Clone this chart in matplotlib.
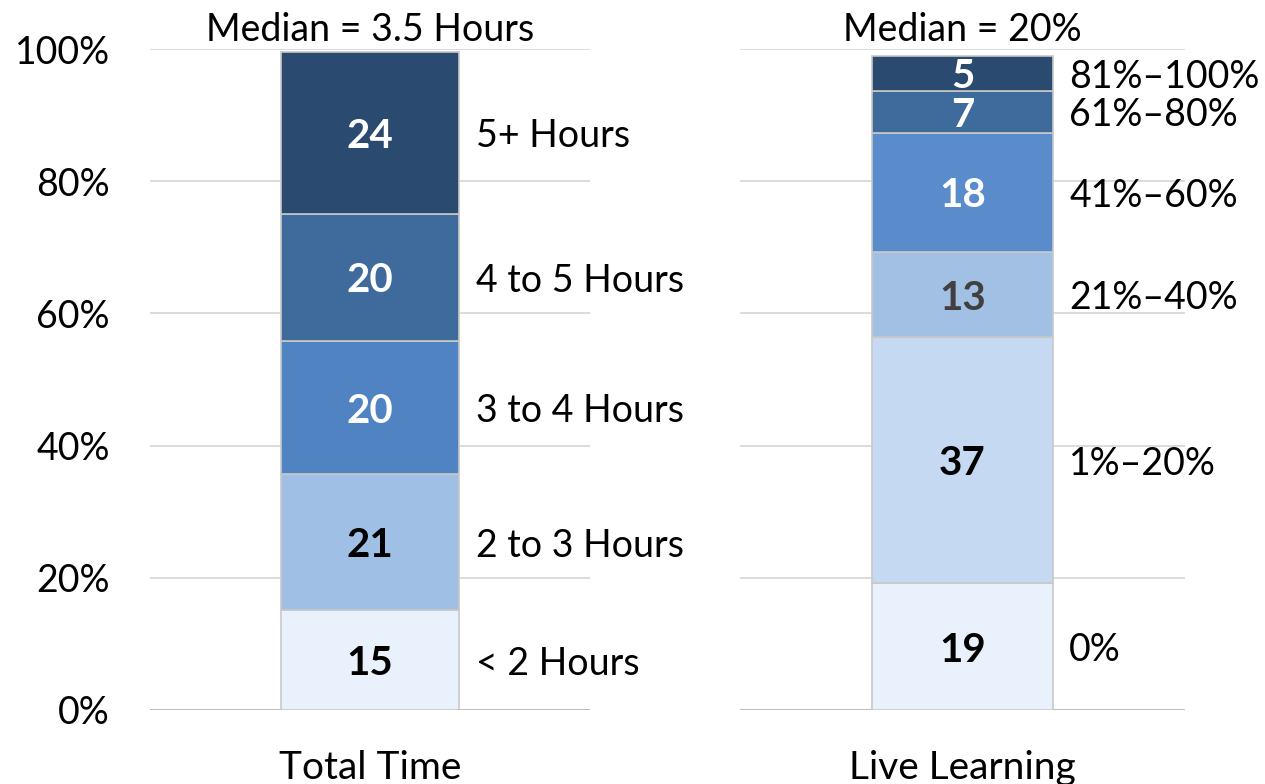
import matplotlib.pyplot as plt

plt.rcParams['font.family'] = ['Lato', 'DejaVu Sans']

# Total Time bar (bottom -> top)
time_labels = ['< 2 Hours', '2 to 3 Hours', '3 to 4 Hours', '4 to 5 Hours', '5+ Hours']
time_values = [15.1, 20.6, 20.1, 19.3, 24.4]
time_text = [15, 21, 20, 20, 24]

# Live Learning bar (bottom -> top)
live_labels = ['0%', '1%\u201320%', '21%\u201340%', '41%\u201360%', '61%\u201380%', '81%\u2013100%']
live_values = [19.2, 37.2, 12.9, 18.0, 6.4, 5.2]
live_text = [19, 37, 13, 18, 7, 5]

time_colors = ['#E9F2FC', '#A0BFE5', '#5083C1', '#3F6A9C', '#2B4A6F']
time_fc = ['black', 'black', 'white', 'white', 'white']
live_colors = ['#E9F2FC', '#C5DAF2', '#A2BFE4', '#5A8CCB', '#3F6A9C', '#2B4A6F']
live_fc = ['black', 'black', '#404040', 'white', 'white', 'white']

fig = plt.figure(figsize=(12.65, 7.84), dpi=100)
ax1 = fig.add_axes([0.1186, 0.0944, 0.3478, 0.8431])
ax2 = fig.add_axes([0.585, 0.0944, 0.3518, 0.8431])


def draw(ax, values, texts, colors, fcs, labels, label_x, name, title):
    bottom = 0
    for v, t, c, fc, lab in zip(values, texts, colors, fcs, labels):
        ax.bar(0, v, bottom=bottom, width=0.405, color=c, edgecolor='#c8c8c8',
               linewidth=1.2, zorder=3)
        mid = bottom + v / 2
        ax.text(0, mid, str(t), ha='center', va='center_baseline', color=fc,
                fontsize=29, fontweight='bold', zorder=4)
        ax.text(label_x, mid, lab, ha='left', va='center_baseline', fontsize=27,
                color='black')
        bottom += v
    ax.set_xlim(-0.5, 0.5)
    ax.set_ylim(0, 100)
    for y in range(20, 101, 20):
        ax.axhline(y, color='#d9d9d9', linewidth=1.3, zorder=0)
    ax.axhline(0, color='#bfbfbf', linewidth=1.5, zorder=1)
    for s in ax.spines.values():
        s.set_visible(False)
    ax.set_xticks([0])
    ax.set_xticklabels([name], fontsize=28)
    ax.tick_params(axis='x', length=0, pad=29)
    ax.set_title(title, fontsize=27, pad=6)


draw(ax1, time_values, time_text, time_colors, time_fc, time_labels, 0.24,
     'Total Time', 'Median = 3.5 Hours')
draw(ax2, live_values, live_text, live_colors, live_fc, live_labels, 0.24,
     'Live Learning', 'Median = 20%')

ax1.set_yticks(range(0, 101, 20))
ax1.set_yticklabels([f'{v}%' for v in range(0, 101, 20)], fontsize=27)
ax1.tick_params(axis='y', length=0, pad=29)
ax2.set_yticks([])

fig.savefig('out.png', dpi=100)
